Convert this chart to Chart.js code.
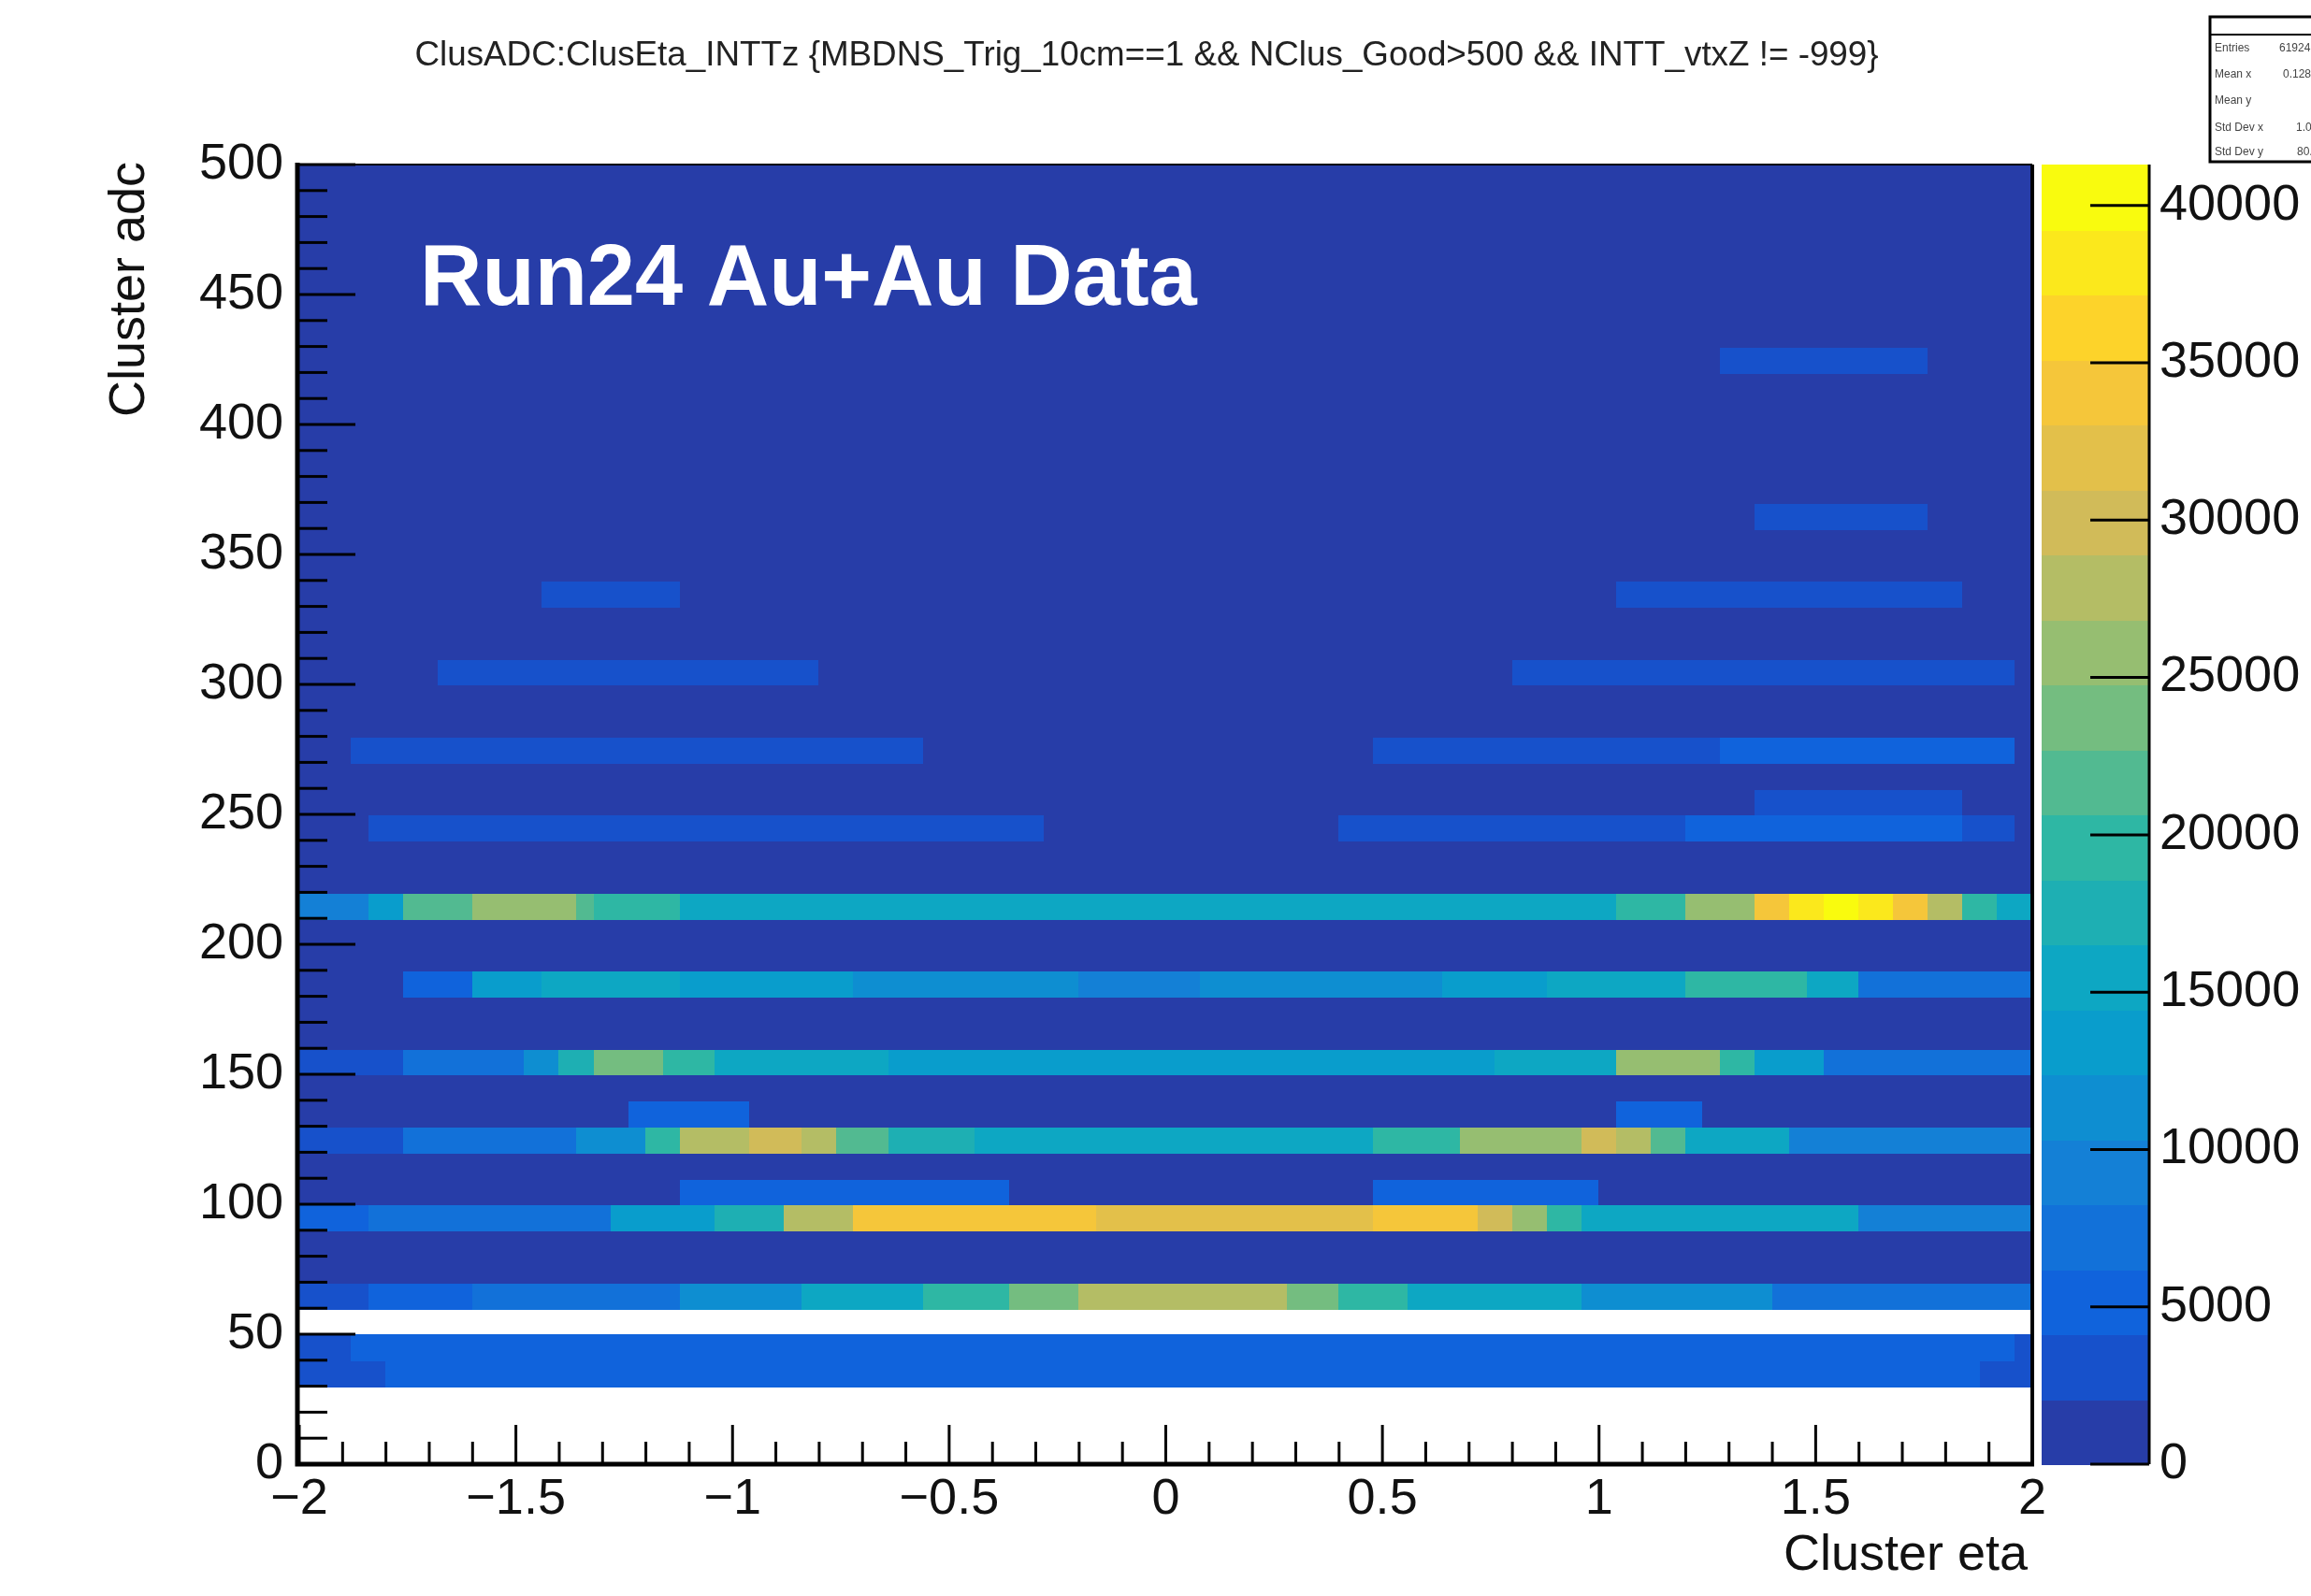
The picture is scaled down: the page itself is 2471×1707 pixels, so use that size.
<!DOCTYPE html>
<html>
<head>
<meta charset="utf-8">
<title>ClusADC vs ClusEta</title>
<script src="https://cdn.jsdelivr.net/npm/chart.js@4.4.1/dist/chart.umd.min.js"></script>
<style>
  html, body { margin: 0; padding: 0; background: #fff; }
  #wrap { width: 2471px; height: 1707px; }
</style>
</head>
<body>
<div id="wrap"><canvas id="adcEtaChart" width="2471" height="1707"></canvas></div>
<script>
// TH2 binning: 100 bins in eta, 50 bins in adc
const etaRange = [-2, 2];
const etaBins = 100;
const adcRange = [0, 500];
const adcBins = 50;

// axis tick labels
const etaTicks = [-2, -1.5, -1, -0.5, 0, 0.5, 1, 1.5, 2];
const adcTicks = [0, 50, 100, 150, 200, 250, 300, 350, 400, 450, 500];
const countTicks = [0, 5000, 10000, 15000, 20000, 25000, 30000, 35000, 40000];

// adc bins (lower edge) with no entries at all
const emptyAdcBins = [0, 10, 20, 50];
// content of the quiet bins everywhere else
const baseCounts = 900;

// [etaLow, etaHigh, counts] runs for each filled adc bin
const adc30 = [[-2, -1.8, 3100], [-1.8, 1.88, 5200], [1.88, 2, 3100]];
const adc40 = [[-2, -1.88, 3100], [-1.88, 1.96, 5400], [1.96, 2, 3100]];
const adc60 = [[-2, -1.84, 3100], [-1.84, -1.6, 5200], [-1.6, -1.12, 8200], [-1.12, -0.84, 11400],
  [-0.84, -0.56, 14500], [-0.56, -0.36, 19600], [-0.36, -0.2, 24000], [-0.2, 0.28, 27900],
  [0.28, 0.4, 24000], [0.4, 0.56, 19600], [0.56, 0.96, 14500], [0.96, 1.4, 11400], [1.4, 2, 8200]];
const adc90 = [[-2, -1.84, 5200], [-1.84, -1.28, 7200], [-1.28, -1.04, 12400], [-1.04, -0.88, 17600],
  [-0.88, -0.72, 27900], [-0.72, -0.16, 34100], [-0.16, 0.24, 32000], [0.24, 0.48, 33000],
  [0.48, 0.72, 34100], [0.72, 0.8, 30000], [0.8, 0.88, 25800], [0.88, 0.96, 19600],
  [0.96, 1.6, 14500], [1.6, 2, 10300]];
const adc100 = [[-1.12, -0.36, 4200], [0.48, 1.0, 4200]];
const adc120 = [[-2, -1.76, 3100], [-1.76, -1.36, 7200], [-1.36, -1.2, 11400], [-1.2, -1.12, 19600],
  [-1.12, -0.96, 27900], [-0.96, -0.84, 30000], [-0.84, -0.76, 27900], [-0.76, -0.64, 22700],
  [-0.64, -0.44, 17600], [-0.44, 0.48, 15500], [0.48, 0.68, 18600], [0.68, 0.96, 26800],
  [0.96, 1.04, 30000], [1.04, 1.12, 27900], [1.12, 1.2, 21700], [1.2, 1.44, 14500], [1.44, 2, 10300]];
const adc130 = [[-1.24, -0.96, 5200], [1.04, 1.24, 5200]];
const adc150 = [[-2, -1.76, 3100], [-1.76, -1.48, 6200], [-1.48, -1.4, 11400], [-1.4, -1.32, 17600],
  [-1.32, -1.16, 23700], [-1.16, -1.04, 19600], [-1.04, -0.64, 15500], [-0.64, 0.52, 12400],
  [0.52, 0.76, 13400], [0.76, 1.04, 16500], [1.04, 1.28, 25800], [1.28, 1.36, 19600],
  [1.36, 1.52, 13400], [1.52, 2, 7200]];
const adc180 = [[-1.76, -1.6, 5200], [-1.6, -1.44, 12400], [-1.44, -1.12, 15500], [-1.12, -0.72, 13400],
  [-0.72, -0.2, 11400], [-0.2, 0.08, 9300], [0.08, 0.64, 11400], [0.64, 0.88, 13400],
  [0.88, 1.2, 15500], [1.2, 1.48, 20600], [1.48, 1.6, 15500], [1.6, 2, 6200]];
const adc210 = [[-2, -1.84, 9300], [-1.84, -1.76, 13400], [-1.76, -1.6, 21700], [-1.6, -1.36, 26800],
  [-1.36, -1.32, 21700], [-1.32, -1.12, 20600], [-1.12, 0.72, 14500], [0.72, 1.04, 16500],
  [1.04, 1.2, 20600], [1.2, 1.36, 26800], [1.36, 1.44, 34100], [1.44, 1.52, 39200],
  [1.52, 1.6, 41300], [1.6, 1.68, 39200], [1.68, 1.76, 34100], [1.76, 1.84, 27900],
  [1.84, 1.92, 19600], [1.92, 2, 15500]];
const adc240 = [[-1.84, -0.28, 3100], [0.4, 1.2, 3100], [1.2, 1.84, 4800], [1.84, 1.96, 3100]];
const adc250 = [[1.36, 1.84, 3600]];
const adc270 = [[-1.88, -0.56, 3100], [0.48, 1.28, 3100], [1.28, 1.96, 4600]];
const adc300 = [[-1.68, -0.8, 3300], [0.8, 1.96, 3300]];
const adc330 = [[-1.44, -1.12, 3300], [1.04, 1.84, 3300]];
const adc360 = [[1.36, 1.76, 3300]];
const adc420 = [[1.28, 1.76, 3300]];

const adcRows = [
  [30, adc30], [40, adc40], [60, adc60], [90, adc90], [100, adc100], [120, adc120],
  [130, adc130], [150, adc150], [180, adc180], [210, adc210], [240, adc240], [250, adc250],
  [270, adc270], [300, adc300], [330, adc330], [360, adc360], [420, adc420]
];

// ROOT kBird palette
const birdStops = [0.0, 0.125, 0.25, 0.375, 0.5, 0.625, 0.75, 0.875, 1.0];
const birdR = [0.2082, 0.0592, 0.0780, 0.0232, 0.1802, 0.5301, 0.8186, 0.9956, 0.9764];
const birdG = [0.1664, 0.3599, 0.5041, 0.6419, 0.7178, 0.7492, 0.7328, 0.7862, 0.9832];
const birdB = [0.5293, 0.8684, 0.8385, 0.7914, 0.6425, 0.4662, 0.3499, 0.1968, 0.0539];
const nContours = 20;

function birdColor(f) {
  let i = 0;
  while (i < birdStops.length - 2 && f > birdStops[i + 1]) i++;
  const t = (f - birdStops[i]) / (birdStops[i + 1] - birdStops[i]);
  const c = arr => Math.round(255 * (arr[i] + (arr[i + 1] - arr[i]) * t));
  return 'rgb(' + c(birdR) + ',' + c(birdG) + ',' + c(birdB) + ')';
}

function levelColor(level) {
  const idx = Math.floor((level + 0.99) * 255 / nContours);
  return birdColor(idx / 254);
}

// fill the 2D bins
const etaWidth = (etaRange[1] - etaRange[0]) / etaBins;
const adcWidth = (adcRange[1] - adcRange[0]) / adcBins;
const cells = [];
for (let iy = 0; iy < adcBins; iy++) {
  const adcLow = adcRange[0] + iy * adcWidth;
  const row = adcRows.find(r => r[0] === adcLow);
  for (let ix = 0; ix < etaBins; ix++) {
    const eta = etaRange[0] + (ix + 0.5) * etaWidth;
    let v = 0;
    if (!emptyAdcBins.includes(adcLow)) {
      const run = row ? row[1].find(r => eta >= r[0] && eta < r[1]) : null;
      v = run ? run[2] : baseCounts;
    }
    cells.push({ x: eta, y: adcLow + adcWidth / 2, v: v });
  }
}
const zMax = Math.max(...cells.map(c => c.v));

const FONT = '"Liberation Sans", Arial, Helvetica, sans-serif';

const heatmapPlugin = {
  id: 'heatmap',
  beforeDatasetsDraw(chart) {
    const ctx = chart.ctx;
    const xs = chart.scales.x, ys = chart.scales.y;
    const area = chart.chartArea;
    ctx.save();
    ctx.beginPath();
    ctx.rect(area.left, area.top, area.right - area.left, area.bottom - area.top);
    ctx.clip();
    chart.data.datasets[0].data.forEach(c => {
      if (c.v <= 0) return;
      const level = Math.min(nContours - 1, Math.floor(c.v / zMax * nContours));
      const x0 = xs.getPixelForValue(c.x - etaWidth / 2);
      const x1 = xs.getPixelForValue(c.x + etaWidth / 2);
      const y0 = ys.getPixelForValue(c.y + adcWidth / 2);
      const y1 = ys.getPixelForValue(c.y - adcWidth / 2);
      ctx.fillStyle = levelColor(level);
      ctx.fillRect(Math.floor(x0), Math.floor(y0), Math.ceil(x1) - Math.floor(x0) + 1, Math.ceil(y1) - Math.floor(y0) + 1);
    });
    ctx.restore();
  },
  afterDraw(chart) {
    const ctx = chart.ctx;
    const xs = chart.scales.x, ys = chart.scales.y, zs = chart.scales.z;
    const area = chart.chartArea;
    ctx.save();
    ctx.strokeStyle = '#000';
    ctx.fillStyle = '#000';

    // frame
    ctx.lineWidth = 2;
    ctx.beginPath();
    ctx.moveTo(area.left, area.top);
    ctx.lineTo(area.right, area.top);
    ctx.stroke();
    ctx.lineWidth = 4;
    ctx.beginPath();
    ctx.moveTo(area.right, area.top);
    ctx.lineTo(area.right, area.bottom);
    ctx.stroke();
    ctx.lineWidth = 5;
    ctx.beginPath();
    ctx.moveTo(area.left - 2, area.top - 2);
    ctx.lineTo(area.left - 2, area.bottom);
    ctx.lineTo(area.right + 2, area.bottom);
    ctx.stroke();

    // adc ticks (inward)
    ctx.lineWidth = 3;
    for (let a = adcRange[0]; a <= adcRange[1]; a += 10) {
      const y = ys.getPixelForValue(a);
      const len = a % 50 === 0 ? 60 : 30;
      ctx.beginPath();
      ctx.moveTo(area.left, y);
      ctx.lineTo(area.left + len, y);
      ctx.stroke();
    }
    // eta ticks (inward)
    for (let i = 0; i <= 40; i++) {
      const x = xs.getPixelForValue(etaRange[0] + i * 0.1);
      const len = i % 5 === 0 ? 42 : 24;
      ctx.beginPath();
      ctx.moveTo(x, area.bottom);
      ctx.lineTo(x, area.bottom - len);
      ctx.stroke();
    }

    const num = v => String(v).replace('-', '\u2212');
    ctx.font = '54px ' + FONT;
    ctx.fillStyle = '#111';
    ctx.textAlign = 'right';
    ctx.textBaseline = 'middle';
    adcTicks.forEach(a => ctx.fillText(num(a), area.left - 17, ys.getPixelForValue(a)));
    ctx.textAlign = 'center';
    etaTicks.forEach(e => ctx.fillText(num(e), xs.getPixelForValue(e), area.bottom + 38));

    // axis titles
    ctx.textAlign = 'right';
    ctx.fillText('Cluster eta', area.right - 5, 1664);
    ctx.save();
    ctx.translate(139, area.top - 3);
    ctx.rotate(-Math.PI / 2);
    ctx.textAlign = 'right';
    ctx.fillText('Cluster adc', 0, 0);
    ctx.restore();

    // colour scale
    const zl = area.right + 10, zr = area.right + 125;
    const dz = zMax / nContours;
    for (let l = 0; l < nContours; l++) {
      const yTop = zs.getPixelForValue((l + 1) * dz);
      const yBot = zs.getPixelForValue(l * dz);
      ctx.fillStyle = levelColor(l);
      ctx.fillRect(zl, Math.floor(yTop), zr - zl, Math.ceil(yBot) - Math.floor(yTop) + 1);
    }
    ctx.strokeStyle = '#000';
    ctx.lineWidth = 3;
    ctx.beginPath();
    ctx.moveTo(zr, zs.getPixelForValue(zMax));
    ctx.lineTo(zr, zs.getPixelForValue(0));
    ctx.stroke();
    ctx.fillStyle = '#111';
    ctx.textAlign = 'left';
    countTicks.forEach(t => {
      const y = zs.getPixelForValue(t);
      ctx.beginPath();
      ctx.moveTo(zr, y);
      ctx.lineTo(zr - 63, y);
      ctx.stroke();
      ctx.fillText(String(t), zr + 11, y);
    });

    // histogram title
    const title = 'ClusADC:ClusEta_INTTz {MBDNS_Trig_10cm==1 && NClus_Good>500 && INTT_vtxZ != -999}';
    ctx.font = '100px ' + FONT;
    const size = 100 * 1566 / ctx.measureText(title).width;
    ctx.font = size.toFixed(1) + 'px ' + FONT;
    ctx.textAlign = 'center';
    ctx.fillStyle = '#222';
    ctx.fillText(title, 1226, 60);

    // label on the plot
    ctx.font = 'bold 92px ' + FONT;
    ctx.textAlign = 'left';
    ctx.textBaseline = 'alphabetic';
    ctx.fillStyle = '#fff';
    ctx.fillText('Run24 Au+Au Data', 449, 326);

    // statistics box (runs off the canvas edge)
    ctx.fillStyle = '#fff';
    ctx.fillRect(2363, 18, 140, 155);
    ctx.strokeStyle = '#000';
    ctx.lineWidth = 3;
    ctx.strokeRect(2363, 18, 140, 155);
    ctx.lineWidth = 2;
    ctx.beginPath();
    ctx.moveTo(2363, 37);
    ctx.lineTo(2471, 37);
    ctx.stroke();
    const statNames = ['Entries', 'Mean x', 'Mean y', 'Std Dev x', 'Std Dev y'];
    const statValues = ['61924', '0.1282', '', '1.046', '80.37'];
    const statX = [2437, 2441, 2441, 2455, 2456];
    const statY = [52, 80, 108, 137, 163];
    ctx.font = '12px ' + FONT;
    ctx.fillStyle = '#444';
    ctx.textBaseline = 'middle';
    statNames.forEach((n, i) => {
      ctx.fillText(n, 2368, statY[i]);
      ctx.fillText(statValues[i], statX[i], statY[i]);
    });
    ctx.restore();
  }
};

new Chart(document.getElementById('adcEtaChart').getContext('2d'), {
  type: 'scatter',
  data: {
    datasets: [{
      label: 'ClusADC:ClusEta_INTTz',
      data: cells,
      pointRadius: 0,
      pointHoverRadius: 0
    }]
  },
  options: {
    responsive: false,
    animation: false,
    layout: { padding: { left: 320, right: 298, top: 176, bottom: 141 } },
    plugins: { legend: { display: false }, tooltip: { enabled: false } },
    scales: {
      x: { type: 'linear', min: etaRange[0], max: etaRange[1], display: false },
      y: { type: 'linear', min: adcRange[0], max: adcRange[1], display: false },
      z: { type: 'linear', axis: 'y', position: 'right', min: 0, max: zMax, display: false }
    }
  },
  plugins: [heatmapPlugin]
});
</script>
</body>
</html>
